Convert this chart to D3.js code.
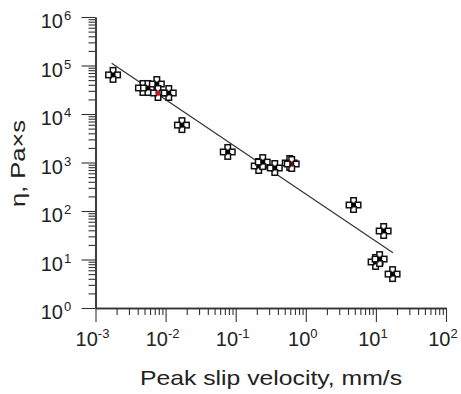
<!DOCTYPE html>
<html>
<head>
<meta charset="utf-8">
<script src="https://cdn.jsdelivr.net/npm/d3@7"></script>
<style>
  body { margin: 0; background: #fff; }
  text { font-family: "Liberation Sans", Arial, sans-serif; fill: #222; }
</style>
</head>
<body>
<div id="chart"></div>
<script>
// Data
let velocity = [0.00178, 0.00475, 0.0056, 0.0075, 0.0078, 0.0111, 0.0171, 0.077, 0.213, 0.243, 0.361, 0.59, 0.63, 4.8, 12.9, 9.9, 11.3, 17.3];
let viscosity = [64000, 34400, 34400, 41500, 27100, 27100, 5900, 1650, 847, 1020, 770, 977, 931, 133, 38.7, 8.9, 10.2, 5.0];
let centerColor = ['#000', '#000', '#000', '#000', '#e01010', '#000', '#000', '#000', '#000', '#000', '#000', '#000', '#5a0a0a', '#000', '#000', '#000', '#000', '#000'];
// fitted line end points
let fitV = [0.0017, 17.5];
let fitEta = [111000, 13.8];

let xExp = [-3, -2, -1, 0, 1, 2];
let yExp = [0, 1, 2, 3, 4, 5, 6];

const W = 461, H = 394;
const margin = {top: 17, right: 15, bottom: 86, left: 96};

let svg = d3.select('#chart').append('svg')
  .attr('width', W)
  .attr('height', H);

let x = d3.scaleLog().domain([1e-3, 1e2]).range([margin.left - 0.5, W - margin.right]);
let y = d3.scaleLog().domain([1, 1e6]).range([H - margin.bottom, margin.top]);

let minors = (exps) => {
  let out = [];
  for (let e = exps[0]; e < exps[exps.length - 1]; e++) {
    for (let k = 2; k < 10; k++) out.push(k * Math.pow(10, e));
  }
  return out;
};

let major = (exps) => exps.map(e => Math.pow(10, e));

let styleAxis = (g) => {
  g.select('.domain').attr('stroke', '#333').attr('stroke-width', 1.5);
  g.selectAll('.tick line').attr('stroke', '#333').attr('stroke-width', 1.1);
  g.selectAll('.tick text').remove();
};

// x axis
let gx = svg.append('g').attr('transform', `translate(0, ${y(1)})`);
gx.append('g').call(d3.axisBottom(x).tickValues(minors(xExp)).tickSize(7).tickSizeOuter(0)).call(styleAxis);
gx.append('g').call(d3.axisBottom(x).tickValues(major(xExp)).tickSize(14).tickSizeOuter(0)).call(styleAxis);

// y axis
let gy = svg.append('g').attr('transform', `translate(${x(1e-3)}, 0)`);
gy.append('g').call(d3.axisLeft(y).tickValues(minors(yExp)).tickSize(7).tickSizeOuter(0)).call(styleAxis);
gy.append('g').call(d3.axisLeft(y).tickValues(major(yExp)).tickSize(14).tickSizeOuter(0)).call(styleAxis);

// tick labels as 10 with superscripts
xExp.forEach(e => {
  let t = svg.append('text')
    .attr('x', x(Math.pow(10, e)) - 3)
    .attr('y', 346)
    .attr('text-anchor', 'middle')
    .style('font-size', '20px');
  t.append('tspan').text('10');
  t.append('tspan').attr('dy', -8).style('font-size', '13px').text(e < 0 ? '-' + (-e) : e);
});

yExp.forEach(e => {
  svg.append('text')
    .attr('x', 63)
    .attr('y', y(Math.pow(10, e)) + 11)
    .attr('text-anchor', 'end')
    .style('font-size', '20px')
    .text('10');
  svg.append('text')
    .attr('x', 64)
    .attr('y', y(Math.pow(10, e)) + 3)
    .style('font-size', '13px')
    .text(e);
});

// axis titles (the reference type is a bit wide, so stretch it)
svg.append('text')
  .attr('x', 140)
  .attr('y', 385)
  .attr('textLength', 262)
  .attr('lengthAdjust', 'spacingAndGlyphs')
  .style('font-size', '21px')
  .text('Peak slip velocity, mm/s');

svg.append('text')
  .attr('transform', 'translate(25, 207) rotate(-90)')
  .attr('textLength', 87)
  .attr('lengthAdjust', 'spacingAndGlyphs')
  .style('font-size', '21px')
  .text('η, Pa×s');

// fit line
svg.append('line')
  .attr('x1', x(fitV[0])).attr('y1', y(fitEta[0]))
  .attr('x2', x(fitV[1])).attr('y2', y(fitEta[1]))
  .attr('stroke', '#333')
  .attr('stroke-width', 1.2);

// markers: four little hollow squares around a filled centre
let data = velocity.map((v, i) => ({v: v, eta: viscosity[i], c: centerColor[i]}));
let offs = [[0, -4.5], [4.5, 0], [0, 4.5], [-4.5, 0]];

let pts = svg.selectAll('g.pt')
  .data(data)
  .enter()
  .append('g')
    .attr('class', 'pt')
    .attr('transform', d => `translate(${x(d.v)}, ${y(d.eta)})`);

offs.forEach(o => {
  pts.append('rect')
    .attr('x', o[0] - 2.75).attr('y', o[1] - 2.75)
    .attr('width', 5.5).attr('height', 5.5)
    .attr('fill', '#fff')
    .attr('stroke', '#111')
    .attr('stroke-width', 1.5);
});
pts.append('rect')
  .attr('x', -2).attr('y', -2)
  .attr('width', 4).attr('height', 4)
  .attr('fill', d => d.c);
</script>
</body>
</html>
